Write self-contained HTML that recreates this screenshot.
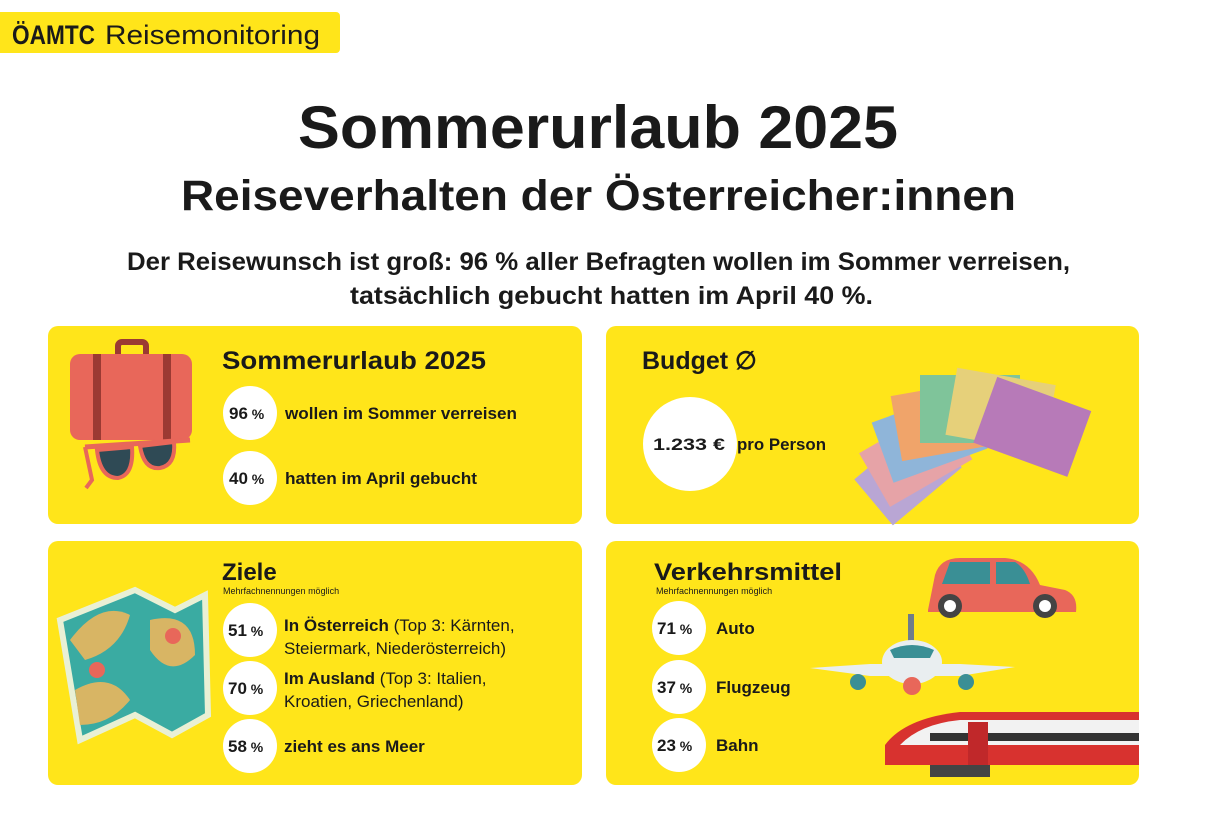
<!DOCTYPE html>
<html><head><meta charset="utf-8"><style>html,body{margin:0;padding:0;background:#fff}svg{display:block}</style></head>
<body>
<svg width="1206" height="814" viewBox="0 0 1206 814" xmlns="http://www.w3.org/2000/svg" font-family="Liberation Sans, sans-serif">
<rect width="1206" height="814" fill="#fff"/>
<rect x="-5" y="12" width="345" height="41" rx="4" fill="#FFE51A"/>
<text x="12" y="44" font-size="27" font-weight="bold" fill="#1a1a1a" textLength="83" lengthAdjust="spacingAndGlyphs">ÖAMTC</text>
<text x="105" y="44" font-size="27" fill="#1a1a1a" textLength="215" lengthAdjust="spacingAndGlyphs">Reisemonitoring</text>

<text x="298" y="148" font-size="60" font-weight="bold" fill="#1a1a1a" textLength="600" lengthAdjust="spacingAndGlyphs">Sommerurlaub 2025</text>
<text x="181" y="210" font-size="43" font-weight="bold" fill="#1a1a1a" textLength="835" lengthAdjust="spacingAndGlyphs">Reiseverhalten der Österreicher:innen</text>
<text x="127" y="270" font-size="25" font-weight="bold" fill="#1a1a1a" textLength="943" lengthAdjust="spacingAndGlyphs">Der Reisewunsch ist groß: 96 % aller Befragten wollen im Sommer verreisen,</text>
<text x="350" y="304" font-size="25" font-weight="bold" fill="#1a1a1a" textLength="523" lengthAdjust="spacingAndGlyphs">tatsächlich gebucht hatten im April 40 %.</text>

<g fill="#FFE51A">
<rect x="48" y="326" width="534" height="198" rx="10"/>
<rect x="606" y="326" width="533" height="198" rx="10"/>
<rect x="48" y="541" width="534" height="244" rx="10"/>
<rect x="606" y="541" width="533" height="244" rx="10"/>
</g>

<rect x="118" y="342" width="28" height="16" rx="4" fill="none" stroke="#9b3a33" stroke-width="6"/>
<rect x="70" y="354" width="122" height="86" rx="10" fill="#E8675A"/>
<rect x="93" y="354" width="8" height="86" fill="#9b3a33"/>
<rect x="163" y="354" width="8" height="86" fill="#9b3a33"/>
<path d="M85 447 L190 440" stroke="#E8675A" stroke-width="5"/>
<path d="M85 447 L92 480 L86 488" stroke="#E8675A" stroke-width="4" fill="none"/>
<path d="M97 450 Q100 478 118 478 Q134 475 132 447 Z" fill="#2f4a55" stroke="#E8675A" stroke-width="4"/>
<path d="M140 446 Q144 470 160 468 Q176 465 174 442 Z" fill="#2f4a55" stroke="#E8675A" stroke-width="4"/>

<text x="222" y="369" font-size="25" font-weight="bold" fill="#1a1a1a" textLength="264" lengthAdjust="spacingAndGlyphs">Sommerurlaub 2025</text>
<g fill="#fff"><circle cx="250" cy="413" r="27"/><circle cx="250" cy="478" r="27"/>
<circle cx="690" cy="444" r="47"/>
<circle cx="250" cy="630" r="27"/><circle cx="250" cy="688" r="27"/><circle cx="250" cy="746" r="27"/>
<circle cx="679" cy="628" r="27"/><circle cx="679" cy="687" r="27"/><circle cx="679" cy="745" r="27"/></g>
<g font-size="17" font-weight="bold" fill="#1a1a1a">
<text x="229" y="419">96<tspan font-size="14"> %</tspan></text>
<text x="229" y="484">40<tspan font-size="14"> %</tspan></text>
<text x="285" y="419" textLength="232" lengthAdjust="spacingAndGlyphs">wollen im Sommer verreisen</text>
<text x="285" y="484" textLength="192" lengthAdjust="spacingAndGlyphs">hatten im April gebucht</text>
<text x="653" y="450" textLength="72" lengthAdjust="spacingAndGlyphs">1.233 €</text>
<text x="737" y="450" textLength="89" lengthAdjust="spacingAndGlyphs">pro Person</text>
<text x="228" y="636">51<tspan font-size="14"> %</tspan></text>
<text x="228" y="694">70<tspan font-size="14"> %</tspan></text>
<text x="228" y="752">58<tspan font-size="14"> %</tspan></text>
<text x="657" y="634">71<tspan font-size="14"> %</tspan></text>
<text x="657" y="693">37<tspan font-size="14"> %</tspan></text>
<text x="657" y="751">23<tspan font-size="14"> %</tspan></text>
<text x="716" y="634">Auto</text>
<text x="716" y="693">Flugzeug</text>
<text x="716" y="751">Bahn</text>
<text x="284" y="631">In Österreich <tspan font-weight="normal">(Top 3: Kärnten,</tspan></text>
<text x="284" y="654" font-weight="normal">Steiermark, Niederösterreich)</text>
<text x="284" y="684">Im Ausland <tspan font-weight="normal">(Top 3: Italien,</tspan></text>
<text x="284" y="707" font-weight="normal">Kroatien, Griechenland)</text>
<text x="284" y="752">zieht es ans Meer</text>
</g>
<text x="642" y="369" font-size="25" font-weight="bold" fill="#1a1a1a">Budget ∅</text>

<g transform="translate(990,470)">
<rect x="-110" y="-80" width="90" height="60" fill="#b9a6d4" transform="rotate(-40)"/>
<rect x="-105" y="-80" width="95" height="62" fill="#e6a3a7" transform="rotate(-30)"/>
<rect x="-95" y="-85" width="100" height="64" fill="#8fb5d9" transform="rotate(-20)"/>
<rect x="-85" y="-90" width="100" height="66" fill="#f0a46a" transform="rotate(-10)"/>
<rect x="-70" y="-95" width="100" height="68" fill="#7fc49a" transform="rotate(0)"/>
<rect x="-50" y="-95" width="100" height="68" fill="#e6d07a" transform="rotate(10)"/>
<rect x="-25" y="-90" width="100" height="70" fill="#b77ab8" transform="rotate(20)"/>
</g>

<g>
<polygon points="60,620 135,590 175,610 205,595 208,715 172,735 135,715 80,740" fill="#3aaba2" stroke="#e9f0d5" stroke-width="6"/>
<path d="M70 640 Q100 600 130 615 Q120 650 85 660 Z" fill="#d8b564"/>
<path d="M150 620 Q195 610 195 655 Q170 680 150 650 Z" fill="#d8b564"/>
<path d="M75 690 Q110 670 130 700 Q110 725 80 725 Z" fill="#d8b564"/>
<circle cx="173" cy="636" r="8" fill="#E8675A"/><circle cx="97" cy="670" r="8" fill="#E8675A"/>
</g>
<text x="222" y="580" font-size="24" font-weight="bold" fill="#1a1a1a">Ziele</text>
<text x="223" y="594" font-size="9" fill="#1a1a1a">Mehrfachnennungen möglich</text>
<text x="654" y="580" font-size="24" font-weight="bold" fill="#1a1a1a" textLength="188" lengthAdjust="spacingAndGlyphs">Verkehrsmittel</text>
<text x="656" y="594" font-size="9" fill="#1a1a1a">Mehrfachnennungen möglich</text>

<path d="M928 610 L935 575 Q940 558 960 558 L1005 558 Q1030 560 1040 585 L1065 590 Q1078 595 1076 612 L928 612 Z" fill="#E8675A"/>
<path d="M950 562 L990 562 L990 584 L942 584 Z" fill="#3a8f95"/>
<path d="M996 562 L1015 562 Q1025 568 1030 584 L996 584 Z" fill="#3a8f95"/>
<circle cx="950" cy="606" r="12" fill="#444"/><circle cx="950" cy="606" r="6" fill="#fff"/>
<circle cx="1045" cy="606" r="12" fill="#444"/><circle cx="1045" cy="606" r="6" fill="#fff"/>
<rect x="908" y="614" width="6" height="30" fill="#6f7c8a"/>
<path d="M810 668 L870 664 L960 664 L1015 667 L960 676 L870 676 Z" fill="#e9eef0"/>
<ellipse cx="912" cy="662" rx="30" ry="22" fill="#e9eef0"/>
<path d="M890 650 Q912 640 934 650 L930 658 L894 658 Z" fill="#3a8f95"/>
<circle cx="858" cy="682" r="8" fill="#3a8f95"/><circle cx="966" cy="682" r="8" fill="#3a8f95"/>
<circle cx="912" cy="686" r="9" fill="#E8675A"/>
<path d="M1139 712 L960 712 Q905 718 885 745 L885 765 L1139 765 Z" fill="#d8322f"/>
<path d="M1139 720 L960 720 Q920 724 900 745 L1139 745 Z" fill="#f2f2f2"/>
<rect x="930" y="733" width="209" height="8" fill="#333"/>
<rect x="968" y="722" width="20" height="43" fill="#c0282a"/>
<rect x="930" y="765" width="60" height="12" fill="#444"/>
</svg>
</body></html>
